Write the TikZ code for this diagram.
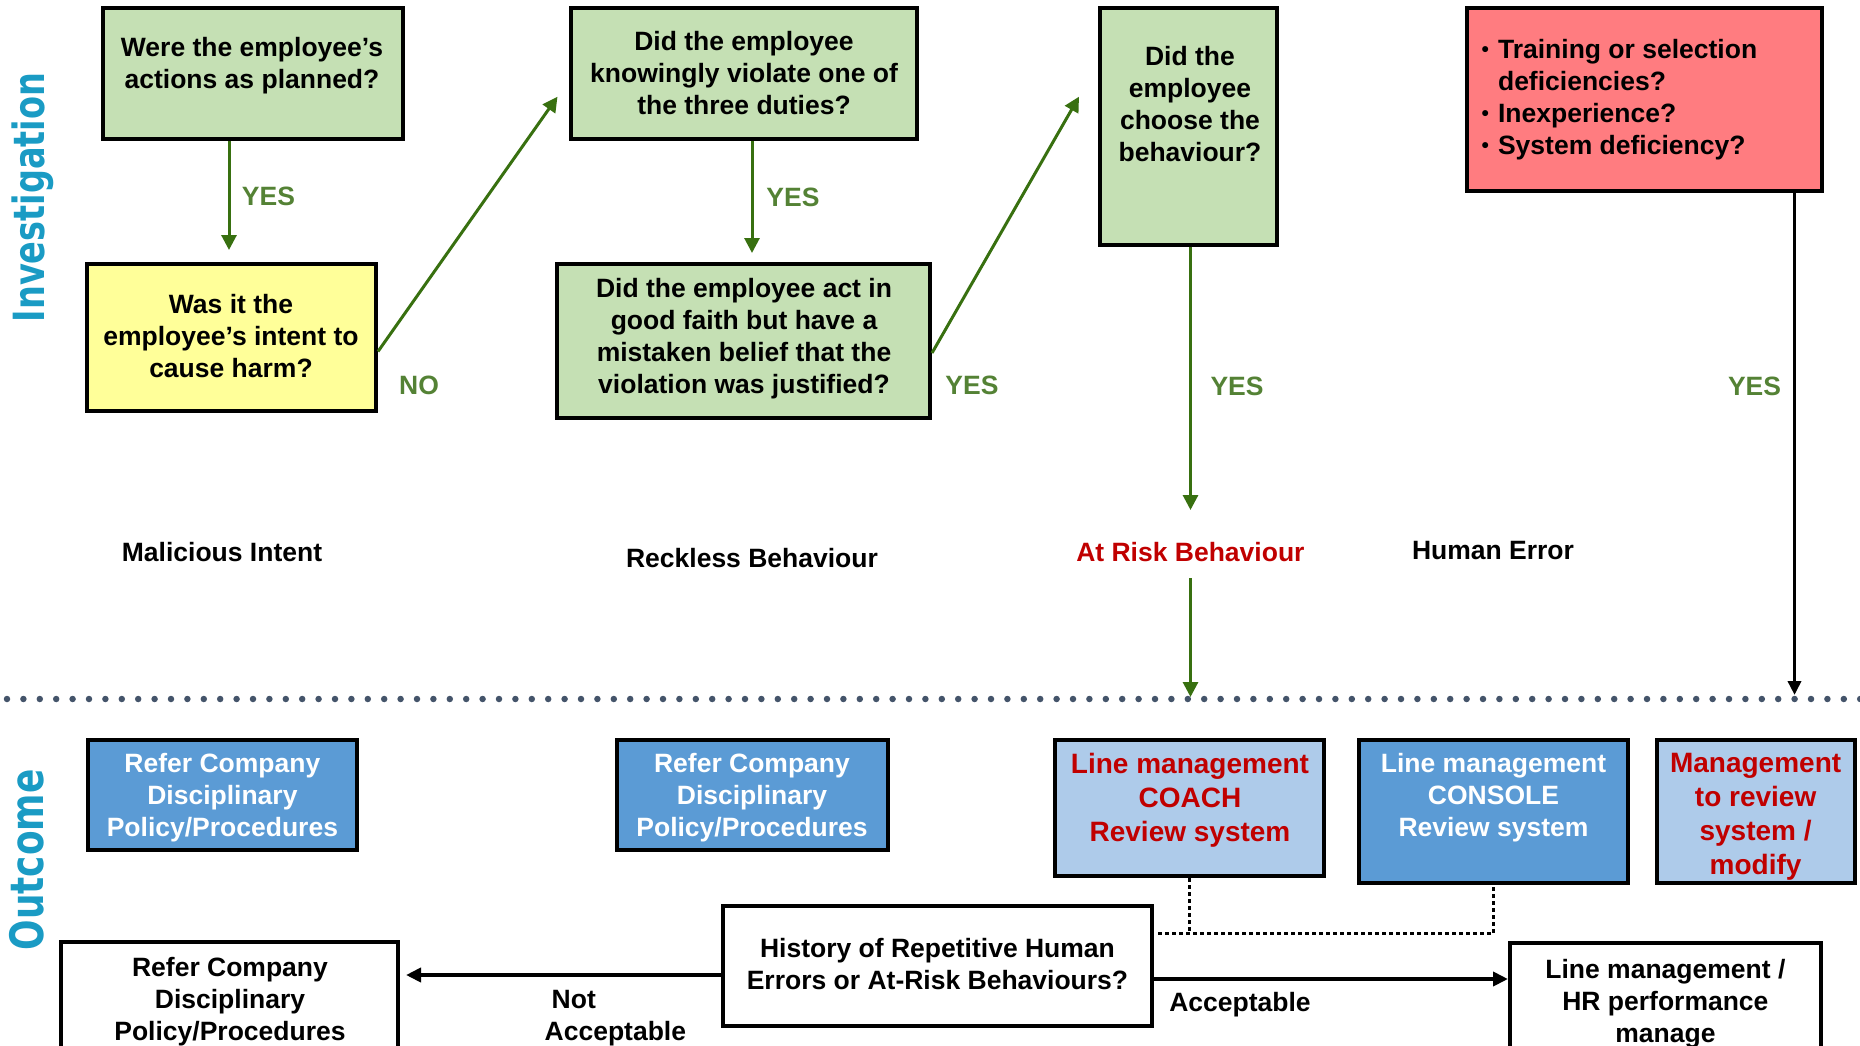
\documentclass[tikz,border=0pt]{standalone}
\usepackage{fontspec}
\setmainfont{Liberation Sans}
\newfontfamily\sidefont[FakeStretch=0.78]{DejaVu Sans}
\usetikzlibrary{arrows.meta}
\definecolor{gfill}{RGB}{197,224,180}
\definecolor{yfill}{RGB}{255,255,153}
\definecolor{rfill}{RGB}{255,124,128}
\definecolor{bdark}{RGB}{91,155,213}
\definecolor{blight}{RGB}{174,203,234}
\definecolor{arrgreen}{RGB}{56,112,16}
\definecolor{yesgreen}{RGB}{84,130,53}
\definecolor{redtext}{RGB}{192,0,0}
\definecolor{sepgray}{RGB}{68,84,106}
\definecolor{tealtext}{RGB}{26,155,196}
\begin{document}
\begin{tikzpicture}[x=1pt,y=-1pt,
  box/.style={draw=black,line width=4pt,inner sep=0pt},
  txt/.style={font=\fontsize{26.5}{32}\selectfont\bfseries,align=center,inner sep=0pt,yshift=-2.5pt},
  rtxt/.style={font=\fontsize{28}{34}\selectfont\bfseries,align=center,inner sep=0pt,text=redtext,yshift=-2.5pt},
  wtxt/.style={txt,text=white},
  yeslbl/.style={font=\fontsize{26.5}{32}\selectfont\bfseries,text=yesgreen,inner sep=0pt},
  garrow/.style={draw=arrgreen,line width=3pt,-{Triangle[length=15pt,width=15pt]}},
  karrow/.style={draw=black,line width=3.5pt,-{Triangle[length=14pt,width=13pt]}},
  harrow/.style={draw=black,line width=4pt,-{Triangle[length=15pt,width=14pt]}},
  sepline/.style={draw=sepgray,line width=6.5pt,line cap=round,dash pattern=on 0pt off 16.4pt},
  dotconn/.style={draw=black,line width=3pt,dash pattern=on 3.5pt off 3.5pt},
  sidelabel/.style={text=tealtext,rotate=90,inner sep=0pt}
]
\useasboundingbox (0,0) rectangle (1860,1046);
\clip (0,0) rectangle (1860,1046);

% side labels
\node[sidelabel,font=\sidefont\fontsize{43}{43}\selectfont\bfseries] (inv) at (33,197.5) {Investigation};
\node[sidelabel,font=\sidefont\fontsize{46}{46}\selectfont\bfseries] (outc) at (27,860) {Outcome};

% investigation boxes
\node[box,fill=gfill,minimum width=300pt,minimum height=131pt] (q1) at (253,73.5) {};
\node[txt] (q1t) at (252,62.8) {Were the employee’s\\actions as planned?};

\node[box,fill=yfill,minimum width=289pt,minimum height=147pt] (yel) at (231.5,337.5) {};
\node[txt] (yelt) at (231,334) {Was it the\\employee’s intent to\\cause harm?};

\node[box,fill=gfill,minimum width=346pt,minimum height=131pt] (q2) at (744,73.5) {};
\node[txt] (q2t) at (744,71) {Did the employee\\knowingly violate one of\\the three duties?};

\node[box,fill=gfill,minimum width=373pt,minimum height=154pt] (q3) at (743.5,341) {};
\node[txt] (q3t) at (744,336) {Did the employee act in\\good faith but have a\\mistaken belief that the\\violation was justified?};

\node[box,fill=gfill,minimum width=177pt,minimum height=237pt] (q4) at (1188.5,126.5) {};
\node[txt] (q4t) at (1190,102) {Did the\\employee\\choose the\\behaviour?};

\node[box,fill=rfill,minimum width=355pt,minimum height=183pt] (red) at (1644.5,99.5) {};
\node[txt,anchor=west,align=left] (redt) at (1481.5,97.8) {\begin{tabular}{@{}l@{\hspace{9pt}}l@{}}\raisebox{2pt}{\fontsize{21}{21}\selectfont •}&Training or selection\\&deficiencies?\\\raisebox{2pt}{\fontsize{21}{21}\selectfont •}&Inexperience?\\\raisebox{2pt}{\fontsize{21}{21}\selectfont •}&System deficiency?\end{tabular}};

% category labels
\node[txt] (mal) at (222,550) {Malicious Intent};
\node[txt] (reck) at (752,556) {Reckless Behaviour};
\node[txt,text=redtext] (atrisk) at (1190.4,550) {At Risk Behaviour};
\node[txt] (herr) at (1493,548) {Human Error};

% yes / no labels
\node[yeslbl] (yes1) at (268.5,196.7) {YES};
\node[yeslbl] (no1) at (419,385) {NO};
\node[yeslbl] (yes2) at (793,197) {YES};
\node[yeslbl] (yes3) at (972,385) {YES};
\node[yeslbl] (yes4) at (1237,386.7) {YES};
\node[yeslbl] (yes5) at (1754.5,386.7) {YES};

% arrow end coordinates
\coordinate (a1e) at (229,250);
\coordinate (d1e) at (557.5,96.7);
\coordinate (a2e) at (752,253);
\coordinate (d2e) at (1079,96.7);
\coordinate (a3e) at (1190.5,510);
\coordinate (a4e) at (1190.5,697);
\coordinate (a5e) at (1794.5,695);

\draw[garrow] (q1.south -| a1e) -- (a1e);
\draw[garrow] ([yshift=-14pt]yel.east) -- (d1e);
\draw[garrow] (q2.south -| a2e) -- (a2e);
\draw[garrow] ([yshift=-12pt]q3.east) -- (d2e);
\draw[garrow] (q4.south -| a3e) -- (a3e);
\draw[garrow] ([yshift=-16pt]atrisk.south -| a4e) -- (a4e);
\draw[karrow] (red.south -| a5e) -- (a5e);

% separator
\coordinate (sepl) at (7,699);
\coordinate (sepr) at (1870,699);
\draw[sepline] (sepl) -- (sepr);

% outcome boxes
\node[box,fill=bdark,minimum width=269pt,minimum height=110pt] (b1) at (222.5,795) {};
\node[wtxt] (b1t) at (222.4,795) {Refer Company\\Disciplinary\\Policy/Procedures};

\node[box,fill=bdark,minimum width=271pt,minimum height=110pt] (b2) at (752.5,795) {};
\node[wtxt] (b2t) at (752,795) {Refer Company\\Disciplinary\\Policy/Procedures};

\node[box,fill=blight,minimum width=269pt,minimum height=136pt] (coach) at (1189.5,808) {};
\node[rtxt] (coacht) at (1190,797.5) {Line management\\COACH\\Review system};

\node[box,fill=bdark,minimum width=269pt,minimum height=143pt] (console) at (1493.5,811.5) {};
\node[wtxt] (consolet) at (1493.5,795) {Line management\\CONSOLE\\Review system};

\node[box,fill=blight,minimum width=198pt,minimum height=143pt] (mgmt) at (1756,811.5) {};
\node[rtxt] (mgmtt) at (1755.6,813.8) {Management\\to review\\system /\\modify};

\node[box,fill=white,minimum width=337pt,minimum height=140pt] (wb1) at (229.5,1012) {};
\node[txt] (wb1t) at (230,999) {Refer Company\\Disciplinary\\Policy/Procedures};

\node[box,fill=white,minimum width=429pt,minimum height=120pt] (hist) at (937.5,966) {};
\node[txt] (histt) at (937.5,961.7) {History of Repetitive Human\\Errors or At-Risk Behaviours?};

\node[box,fill=white,minimum width=311pt,minimum height=140pt] (lmhr) at (1665.5,1013) {};
\node[txt] (lmhrt) at (1665.4,1001.3) {Line management /\\HR performance\\manage};

% bottom connectors
\coordinate (nae) at (406,975);
\draw[harrow] (hist.west |- nae) -- (nae);
\coordinate (ace) at (1508,979);
\draw[harrow] (hist.east |- ace) -- (ace);
\node[txt,anchor=west,align=left] (notacc) at (544.5,1016) {\hspace*{7pt}Not\\Acceptable};
\node[txt] (acc) at (1240,1002) {Acceptable};

\coordinate (dj) at (1158,933);
\draw[dotconn] (coach.south) -- (coach.south |- dj);
\draw[dotconn] (dj) -- (dj -| console.south) -- (console.south);
\end{tikzpicture}
\end{document}
